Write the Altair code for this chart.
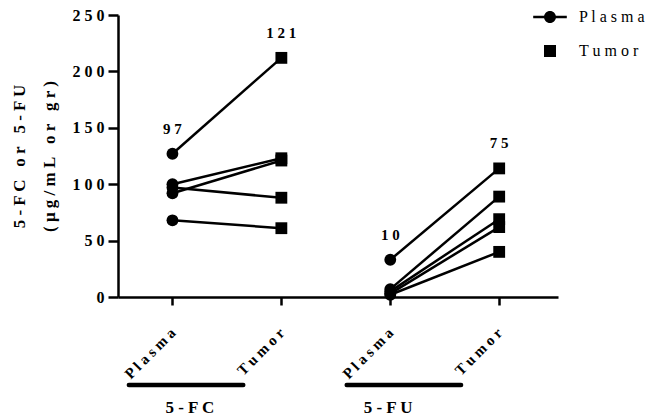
import altair as alt
import pandas as pd

# ---- data ----
groups = ["5-FC", "5-FC", "5-FU", "5-FU"]
tissues = ["Plasma", "Tumor", "Plasma", "Tumor"]
positions = [1, 2, 3, 4]
fc_plasma = [127, 100, 97, 92, 68]
fc_tumor = [212, 123, 88, 121, 61]
fu_plasma = [33, 7, 5, 3, 2]
fu_tumor = [114, 89, 69, 62, 40]
mean_labels = ["97", "121", "10", "75"]
y_ticks = [0, 50, 100, 150, 200, 250]
group_names = ["5-FC", "5-FU"]
group_label_x = [1.16, 2.98]

FONT = "Liberation Serif"
NB = "\u00a0"


def spaced(s):
    return " ".join(list(s))


columns = [fc_plasma, fc_tumor, fu_plasma, fu_tumor]
rows = []
for ci, col in enumerate(columns):
    for pi, v in enumerate(col):
        rows.append({"pos": positions[ci], "tissue": tissues[ci],
                     "group": groups[ci], "pair": f"{groups[ci]}-{pi}", "value": v})
df = pd.DataFrame(rows)

lab = pd.DataFrame({"pos": positions, "top": [max(c) for c in columns],
                    "label": [spaced(s) for s in mean_labels]})

grp = pd.DataFrame({
    "group": group_names,
    "start": [positions[i] for i in range(0, 4, 2)],
    "end": [positions[i + 1] for i in range(0, 4, 2)],
    "label": [spaced(g) for g in group_names],
    "lx": group_label_x,
})

legend_df = pd.DataFrame({"tissue": ["Plasma", "Tumor"]})

label_expr = "''"
for p, t in zip(positions, tissues):
    label_expr = f"datum.value == {p} ? '{spaced(t)}' : ({label_expr})"

x_enc = alt.X("pos:Q", scale=alt.Scale(domain=[0.5, 4.54], nice=False, zero=False),
              axis=alt.Axis(values=positions, labelExpr=label_expr, title=None,
                            labelAngle=-45, labelAlign="right", labelBaseline="middle",
                            labelFont=FONT, labelFontSize=15, labelFontWeight="bold",
                            labelPadding=25, tickSize=8, grid=False))

title_lines = [
    f"5 - F C{NB}{NB}{NB}o r{NB}{NB}{NB}5 - F U",
    f"( μ g / m L{NB}{NB}{NB}o r{NB}{NB}{NB}g r )",
]
y_enc = alt.Y("value:Q", scale=alt.Scale(domain=[0, 250], nice=False),
              axis=alt.Axis(values=y_ticks, title=title_lines,
                            labelExpr="join(split(datum.label, ''), ' ')",
                            labelFont=FONT, labelFontSize=16, labelFontWeight="bold",
                            labelPadding=4, tickSize=10, grid=False,
                            titleFont=FONT, titleFontSize=17, titleFontWeight="bold",
                            titleLineHeight=30, titleX=-99, titleY=141,
                            titleAlign="center", titleBaseline="middle", titleAngle=-90))

base = alt.Chart(df)

lines = base.mark_line(color="black", strokeWidth=2.5).encode(
    x=x_enc, y=y_enc, detail="pair:N")

points = base.mark_point(filled=True, color="black", opacity=1, size=140).encode(
    x="pos:Q", y="value:Q",
    shape=alt.Shape("tissue:N", scale=alt.Scale(domain=["Plasma", "Tumor"],
                                                range=["circle", "square"]),
                    legend=None))

labels = alt.Chart(lab).mark_text(font=FONT, fontSize=15, fontWeight="bold",
                                  color="black", dy=-25, baseline="middle").encode(
    x="pos:Q", y="top:Q", text="label:N")

plasma_path = ("M-2.8,-0.2H2.8V0.2H-2.8Z "
               "M1,0A1,1,0,1,1,-1,0A1,1,0,1,1,1,0Z")
legend_layer = alt.Chart(legend_df).mark_point(filled=True, color="black", opacity=1,
                                               size=144).encode(
    x=alt.value(-600), y=alt.value(-600),
    shape=alt.Shape("tissue:N",
                    scale=alt.Scale(domain=["Plasma", "Tumor"],
                                    range=[plasma_path, "square"]),
                    legend=alt.Legend(title=None, orient="none", legendX=424, legendY=-6,
                                      symbolSize=144, symbolFillColor="black",
                                      symbolStrokeWidth=0,
                                      labelFont=FONT, labelFontSize=16,
                                      labelColor="black",
                                      labelExpr="join(split(datum.label, ''), ' ')",
                                      labelOffset=21, rowPadding=18)))

gbar = alt.Chart(grp).transform_calculate(
    x1="datum.start - 0.4", x2="datum.end - 0.35"
).mark_rule(color="black", strokeWidth=4.5, strokeCap="round").encode(
    x="x1:Q", x2="x2:Q", y=alt.value(370))

gtext = alt.Chart(grp).mark_text(font=FONT, fontSize=17, fontWeight="bold",
                                 color="black", baseline="middle").encode(
    x="lx:Q", y=alt.value(393), text="label:N")

chart = alt.layer(lines, points, labels, legend_layer, gbar, gtext).resolve_scale(
    shape="independent").resolve_legend(shape="independent").properties(
    width=440, height=282,
    padding={"left": 110, "top": 7, "right": 98, "bottom": 121},
    autosize=alt.AutoSizeParams(type="none"),
).configure_view(stroke=None).configure_axis(
    domainColor="black", tickColor="black", labelColor="black", titleColor="black",
    domainWidth=2.5, tickWidth=2.5)

chart.save("out.html", embed_options={"renderer": "svg", "actions": False})
